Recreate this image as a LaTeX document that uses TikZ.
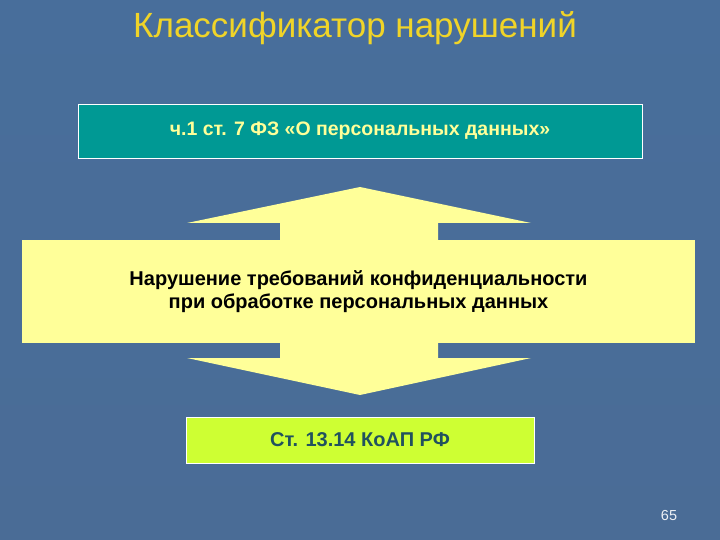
\documentclass[tikz,border=0pt]{standalone}
\usepackage{fontspec}
\setmainfont{Liberation Sans}
\usetikzlibrary{positioning}
\definecolor{slidebg}{RGB}{74,108,150}
\definecolor{slidebgtop}{RGB}{72,110,155}
\definecolor{titleyellow}{RGB}{240,212,40}
\definecolor{lawteal}{RGB}{0,153,148}
\definecolor{paleyellow}{RGB}{255,255,153}
\definecolor{limegreen}{RGB}{206,255,51}
\definecolor{darkteal}{RGB}{33,82,94}
\tikzset{
    law-box/.style = {draw=white, fill=lawteal, text=paleyellow, line width=0.8pt, rectangle, minimum width=564pt, minimum height=54pt, font=\bfseries\fontsize{19.5}{23}\selectfont},
    breach-box/.style = {fill=paleyellow, text=black, rectangle, minimum width=673pt, minimum height=103pt, align=center, font=\bfseries\fontsize{20}{23}\selectfont},
    coap-box/.style = {draw=white, fill=limegreen, text=darkteal, line width=0.8pt, rectangle, minimum width=348pt, minimum height=46pt, font=\bfseries\fontsize{20}{23}\selectfont},
    slide-title/.style = {text=titleyellow, font=\fontsize{35}{40}\selectfont},
}

\begin{document}
\begin{tikzpicture}[x=1pt,y=-1pt]
\shade[top color=slidebgtop, bottom color=slidebg] (0,0) rectangle (720,540);
\useasboundingbox (0,0) rectangle (720,540);

\node[slide-title] (title) at (355,28) {Классификатор нарушений};

% double arrow behind the middle box
\fill[paleyellow] (360,187) -- (531,223) -- (438,223) -- (438,358) -- (531,358)
    -- (360,395) -- (187,358) -- (280,358) -- (280,223) -- (187,223) -- cycle;

\node[law-box] (law) at (360,131) {ч.1 ст. 7 ФЗ «О персональных данных»};
\node[breach-box] (breach) at (358.5,291.5) {Нарушение требований конфиденциальности\\при обработке персональных данных};
\node[coap-box] (coap) at (360,440) {Ст. 13.14 КоАП РФ};

\node[text=white!90!slidebg, font=\fontsize{14.5}{16}\selectfont] (page) at (669,516) {65};
\end{tikzpicture}
\end{document}
